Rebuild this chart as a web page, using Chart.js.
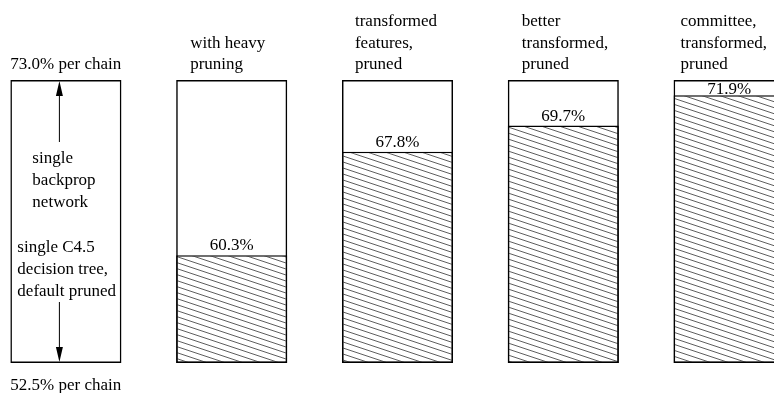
<!DOCTYPE html>
<html>
<head>
<meta charset="utf-8">
<script src="https://cdn.jsdelivr.net/npm/chart.js@4/dist/chart.umd.min.js"></script>
<style>
  html, body { margin: 0; padding: 0; background: #fff; overflow: hidden; width: 774px; height: 393px; }
  #wrap { position: absolute; left: -17px; top: 0; width: 829px; height: 393px; }
</style>
</head>
<body>
<div id="wrap"><canvas id="c" width="829" height="393"></canvas></div>
<script>
// ---- data ----
const headers = [
  ['73.0% per chain'],
  ['with heavy', 'pruning'],
  ['transformed', 'features,', 'pruned'],
  ['better', 'transformed,', 'pruned'],
  ['committee,', 'transformed,', 'pruned']
];
const accuracy = [null, 60.3, 67.8, 69.7, 71.9];
const valueLabels = ['', '60.3%', '67.8%', '69.7%', '71.9%'];
const scaleMin = 52.5;
const scaleMax = 73.0;
const bottomLabel = '52.5% per chain';
const keyUpper = ['single', 'backprop', 'network'];
const keyLower = ['single C4.5', 'decision tree,', 'default pruned'];

const FONT = '17px "Liberation Serif", "Times New Roman", serif';

function makeHatch() {
  const c = document.createElement('canvas');
  c.width = 18; c.height = 6;
  const g = c.getContext('2d');
  g.fillStyle = '#fff';
  g.fillRect(0, 0, 18, 6);
  g.strokeStyle = '#333';
  g.lineWidth = 0.8;
  for (const off of [-6, 0, 6]) {
    g.beginPath();
    g.moveTo(0, off);
    g.lineTo(18, off + 6);
    g.stroke();
  }
  return g.createPattern(c, 'repeat');
}

const annot = {
  id: 'annot',
  afterDatasetsDraw(chart) {
    const ctx = chart.ctx;
    const boxes = chart.getDatasetMeta(1).data;
    const bars = chart.getDatasetMeta(0).data;
    const headerDx = [0, 14, 13, 14, 7];
    const lineH = 21.5;
    ctx.save();
    ctx.font = FONT;
    ctx.fillStyle = '#000';
    ctx.textBaseline = 'alphabetic';
    // headers
    headers.forEach((lines, i) => {
      const b = boxes[i];
      const left = b.x - b.width / 2;
      const top = Math.min(b.y, b.base);
      lines.forEach((t, k) => {
        const y = top - 11 - (lines.length - 1 - k) * lineH;
        ctx.textAlign = 'left';
        ctx.fillText(t, left + headerDx[i], y);
      });
    });
    // value labels
    valueLabels.forEach((t, i) => {
      if (!t) return;
      const bar = bars[i];
      const boxTop = Math.min(boxes[i].y, boxes[i].base);
      const top = Math.min(bar.y, bar.base);
      const y = Math.max(top - 5, (boxTop + top) / 2 + 6);
      ctx.textAlign = 'center';
      ctx.fillText(t, bar.x, y);
    });
    // key box
    const k = boxes[0];
    const kl = k.x - k.width / 2;
    const kTop = Math.min(k.y, k.base);
    const kBot = Math.max(k.y, k.base);
    ctx.textAlign = 'left';
    keyUpper.forEach((t, j) => ctx.fillText(t, kl + 22, 163 + j * 21.8));
    keyLower.forEach((t, j) => ctx.fillText(t, kl + 7, 252 + j * 21.8));
    // bottom label
    ctx.fillText(bottomLabel, kl, 390);
    // arrows
    const ax = k.x - 6.5;
    ctx.strokeStyle = '#000';
    ctx.lineWidth = 1;
    ctx.beginPath();
    ctx.moveTo(ax, 142); ctx.lineTo(ax, kTop + 10);
    ctx.moveTo(ax, 302); ctx.lineTo(ax, kBot - 10);
    ctx.stroke();
    ctx.beginPath();
    ctx.moveTo(ax, kTop + 1); ctx.lineTo(ax - 3.5, kTop + 16); ctx.lineTo(ax + 3.5, kTop + 16); ctx.closePath();
    ctx.moveTo(ax, kBot - 1); ctx.lineTo(ax - 3.5, kBot - 16); ctx.lineTo(ax + 3.5, kBot - 16); ctx.closePath();
    ctx.fill();
    ctx.restore();
  }
};

new Chart(document.getElementById('c'), {
  type: 'bar',
  data: {
    labels: headers.map(h => h.join(' ')),
    datasets: [
      {
        label: 'accuracy',
        data: accuracy.map(v => v == null ? null : [scaleMin, v]),
        backgroundColor: makeHatch(),
        borderColor: '#000',
        borderWidth: 1.5,
        borderSkipped: false,
        grouped: false,
        order: 2,
        barPercentage: 0.67,
        categoryPercentage: 1
      },
      {
        label: 'range',
        data: headers.map(() => [scaleMin, scaleMax]),
        backgroundColor: 'rgba(0,0,0,0)',
        borderColor: '#000',
        borderWidth: 1.5,
        borderSkipped: false,
        grouped: false,
        order: 1,
        barPercentage: 0.67,
        categoryPercentage: 1
      }
    ]
  },
  options: {
    responsive: false,
    animation: false,
    devicePixelRatio: 1,
    layout: { padding: { top: 80, bottom: 30, left: 0, right: 0 } },
    plugins: { legend: { display: false }, tooltip: { enabled: false } },
    scales: {
      x: { display: false, offset: true },
      y: { display: false, min: scaleMin, max: scaleMax }
    }
  },
  plugins: [annot]
});
</script>
</body>
</html>
